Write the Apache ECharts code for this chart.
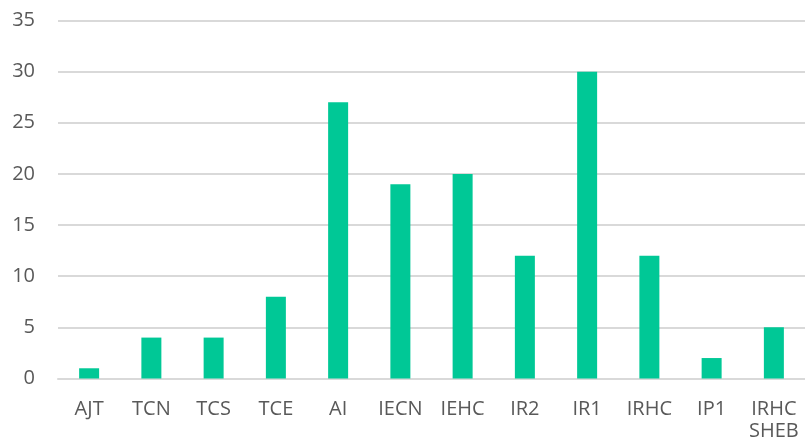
<!DOCTYPE html>
<html>
<head>
<meta charset="utf-8">
<script src="https://cdn.jsdelivr.net/npm/echarts@6/dist/echarts.min.js"></script>
<style>
  html, body { margin: 0; padding: 0; background: #fff; }
  #chart { width: 805px; height: 447px; }
</style>
</head>
<body>
<div id="chart"></div>
<script>
const categories = ['AJT', 'TCN', 'TCS', 'TCE', 'AI', 'IECN', 'IEHC', 'IR2', 'IR1', 'IRHC', 'IP1', 'IRHC\nSHEB']
const values = [1, 4, 4, 8, 27, 19, 20, 12, 30, 12, 2, 5]
const yTicks = { min: 0, max: 35, interval: 5 }

const chart = echarts.init(document.getElementById('chart'))
chart.setOption({
  animation: false,
  textStyle: { fontFamily: 'Open Sans, Liberation Sans, sans-serif' },
  grid: { left: 58, right: -5, top: 20.5, bottom: 68.5, containLabel: false },
  xAxis: {
    type: 'category',
    data: categories,
    axisTick: { show: false },
    axisLine: { lineStyle: { color: '#d9d9d9', width: 2 } },
    axisLabel: { color: '#595959', fontSize: 20, margin: 20, interval: 0, lineHeight: 22 }
  },
  yAxis: {
    type: 'value',
    min: yTicks.min,
    max: yTicks.max,
    interval: yTicks.interval,
    axisLine: { show: false },
    axisTick: { show: false },
    axisLabel: { color: '#595959', fontSize: 20, margin: 23 },
    splitLine: { lineStyle: { color: '#d9d9d9', width: 2 } }
  },
  series: [{
    type: 'bar',
    data: values,
    barWidth: 20,
    itemStyle: { color: '#00c896' }
  }]
})
</script>
</body>
</html>
